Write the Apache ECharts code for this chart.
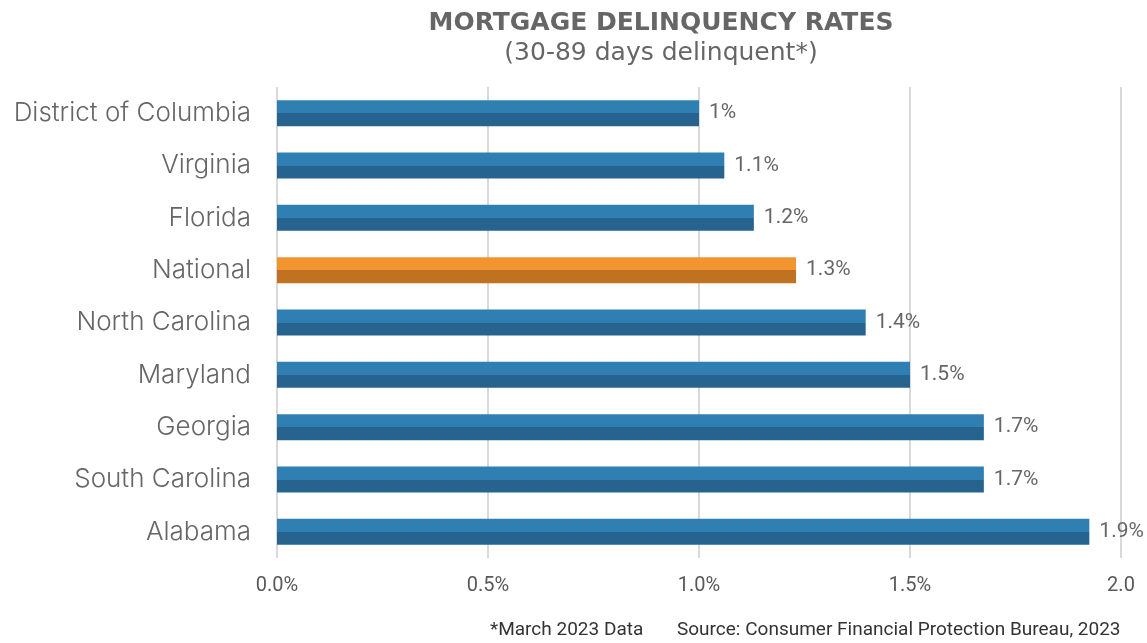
<!DOCTYPE html>
<html>
<head>
<meta charset="utf-8">
<script src="https://cdn.jsdelivr.net/npm/echarts@6/dist/echarts.min.js"></script>
<style>
  html, body { margin: 0; padding: 0; background: #fff; }
  #chart { width: 1147px; height: 643px; }
</style>
</head>
<body>
<div id="chart"></div>
<script>
const states = ['District of Columbia', 'Virginia', 'Florida', 'National', 'North Carolina',
  'Maryland', 'Georgia', 'South Carolina', 'Alabama']
const rates = [1.0, 1.06, 1.13, 1.23, 1.395, 1.5, 1.675, 1.675, 1.925]
const rateLabels = ['1%', '1.1%', '1.2%', '1.3%', '1.4%', '1.5%', '1.7%', '1.7%', '1.9%']
const xTicks = ['0.0%', '0.5%', '1.0%', '1.5%', '2.0']

// two-tone bars: lighter top half, darker bottom half
function twoTone (top, bottom) {
  return new echarts.graphic.LinearGradient(0, 0, 0, 1, [
    { offset: 0, color: top },
    { offset: 0.5, color: top },
    { offset: 0.5, color: bottom },
    { offset: 1, color: bottom }
  ])
}
const blue = twoTone('#2f7fb3', '#26638e')
const orange = twoTone('#f29430', '#c07222')

const chart = echarts.init(document.getElementById('chart'))
chart.setOption({
  backgroundColor: '#fff',
  textStyle: { fontFamily: 'Roboto' },
  title: {
    text: 'MORTGAGE DELINQUENCY RATES',
    subtext: '(30-89 days delinquent*)',
    left: 656,
    textAlign: 'center',
    top: 6,
    itemGap: 5,
    textStyle: { fontFamily: 'DejaVu Sans', fontWeight: 'bold', fontSize: 25, color: '#666' },
    subtextStyle: { fontFamily: 'DejaVu Sans', fontSize: 25, color: '#666' }
  },
  grid: { left: 277, right: 26, top: 87, bottom: 85, containLabel: false },
  xAxis: {
    type: 'value',
    min: 0,
    max: 2,
    interval: 0.5,
    axisLine: { show: false },
    axisTick: { show: false },
    splitLine: { lineStyle: { color: '#d9d9d9', width: 2 } },
    axisLabel: {
      margin: 18,
      fontSize: 20,
      color: '#595959',
      formatter: (v) => xTicks[Math.round(v / 0.5)]
    }
  },
  yAxis: {
    type: 'category',
    inverse: true,
    data: states,
    axisLine: { show: false },
    axisTick: { show: false },
    axisLabel: { margin: 26, fontFamily: 'Inter', fontWeight: 300, fontSize: 26, color: '#666' }
  },
  series: [{
    type: 'bar',
    barWidth: 26,
    data: rates.map((v, i) => ({
      value: v,
      itemStyle: { color: states[i] === 'National' ? orange : blue }
    })),
    label: {
      show: true,
      position: 'right',
      distance: 10,
      fontSize: 21,
      color: '#666',
      formatter: (p) => rateLabels[p.dataIndex]
    }
  }],
  graphic: [{
    type: 'text',
    left: 490,
    top: 621,
    style: { text: '*March 2023 Data', fontFamily: 'Roboto', fontSize: 19, fill: '#333' }
  }, {
    type: 'text',
    left: 677,
    top: 621,
    style: { text: 'Source: Consumer Financial Protection Bureau, 2023', fontFamily: 'Roboto', fontSize: 19, fill: '#333' }
  }]
})
</script>
</body>
</html>
